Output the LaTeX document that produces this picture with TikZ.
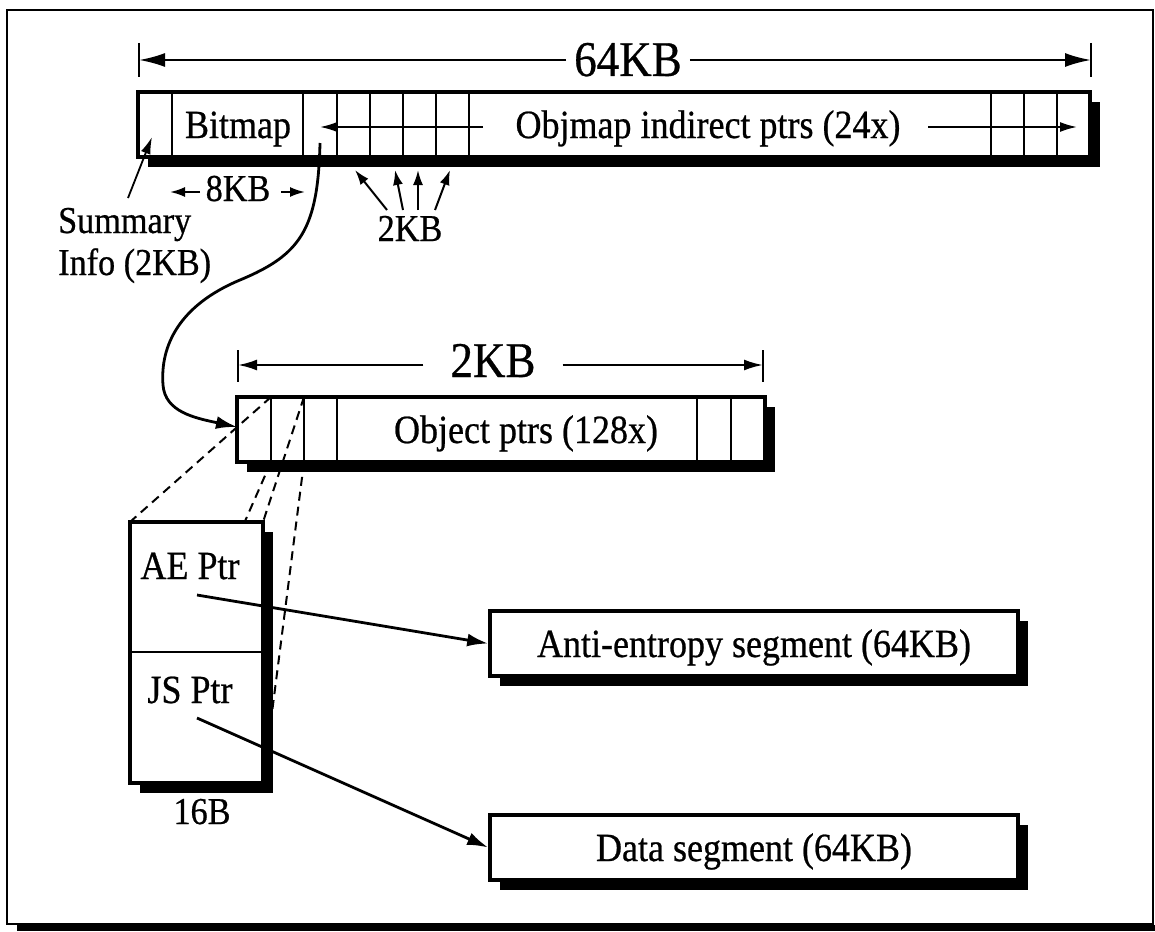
\documentclass[tikz,border=0pt]{standalone}
\usepackage{fontspec}
\setmainfont[FakeStretch=0.9,FakeBold=0.6]{Liberation Serif}
\usetikzlibrary{arrows.meta,shadows}
\begin{document}
\begin{tikzpicture}[x=1pt,y=-1pt,
  box/.style={draw, line width=3.6pt, fill=white, inner sep=0pt,
    drop shadow={shadow xshift=10pt, shadow yshift=-10pt, opacity=1, fill=black}},
  txt/.style={font=\fontsize{40}{46}\selectfont, inner sep=0pt},
  big/.style={font=\fontsize{50}{55}\selectfont, inner ysep=0pt},
  lbl/.style={font=\fontsize{38}{42}\selectfont, inner sep=0pt},
  divline/.style={line width=2pt},
  dimline/.style={line width=2.2pt},
  bigtip/.style={dimline, -{Latex[length=26pt,width=14pt]}},
  midtip/.style={dimline, -{Latex[length=19pt,width=11pt]}},
  inarrow/.style={line width=1.8pt, -{Latex[length=17pt,width=10pt]}},
  smallarrow/.style={line width=2pt, -{Latex[length=15pt,width=10pt]}},
  conn/.style={line width=2.8pt, -{Latex[length=21pt,width=13pt]}},
  dashline/.style={line width=2pt, dash pattern=on 9pt off 6pt}
]
\useasboundingbox (0,0) rectangle (1155,931);
% frame
\fill[white] (0,0) rectangle (1155,931);
\draw[line width=1.8pt] (7,10) rectangle (1153,924);
\fill[black] (17,925) rectangle (1155,931);

% ---------- top 64KB dimension ----------
\draw[dimline] (139,43) -- (139,77);
\draw[dimline] (1091,43) -- (1091,77);
\coordinate (d64L) at (139,60);
\coordinate (d64R) at (1091,60);
\node[big, anchor=base, inner xsep=8pt] (kb64) at (628,76) {64KB};
\draw[bigtip] (kb64.west |- d64L) -- (d64L);
\draw[bigtip] (kb64.east |- d64R) -- (d64R);

% ---------- top box ----------
\node[box, minimum width=952pt, minimum height=65pt] (top) at (614,124.5) {};
\foreach \x in {172,303,337,370,403,436,469,991,1024,1057}
  \draw[divline] (\x,92) -- (\x,157);
\node[txt, anchor=base, fill=white, inner xsep=2pt] (bitmap) at (238,138) {Bitmap};
\node[txt, anchor=base] (objmap) at (708,138) {Objmap indirect ptrs (24x)};
\coordinate (inLs) at (483,127);
\coordinate (inL) at (320,127);
\coordinate (inRs) at (928,127);
\coordinate (inR) at (1077,127);
\draw[inarrow] (inLs) -- (inL);
\draw[inarrow] (inRs) -- (inR);

% summary info
\node[lbl, anchor=base west, align=left] (summ) at (58,275) {Summary\\Info (2KB)};
\coordinate (sumS) at (128,198);
\coordinate (sumT) at (152,137);
\draw[inarrow] (sumS) -- (sumT);

% 8KB
\node[lbl, anchor=base] (kb8) at (238,201) {8KB};
\coordinate (k8Ls) at (200,192);
\coordinate (k8L) at (170,192);
\coordinate (k8Rs) at (281,192);
\coordinate (k8R) at (305,192);
\draw[smallarrow] (k8Ls) -- (k8L);
\draw[smallarrow] (k8Rs) -- (k8R);

% 2KB cells
\node[lbl, anchor=base] (kb2a) at (410,241) {2KB};
\coordinate (a1s) at (387,210); \coordinate (a1) at (355,170);
\coordinate (a2s) at (403,210); \coordinate (a2) at (395,170);
\coordinate (a3s) at (418,210); \coordinate (a3) at (418,170);
\coordinate (a4s) at (435,210); \coordinate (a4) at (450,170);
\foreach \i in {1,2,3,4} \draw[smallarrow] (a\i s) -- (a\i);

% ---------- middle 2KB dimension ----------
\draw[dimline] (238,350) -- (238,382);
\draw[dimline] (763,350) -- (763,382);
\coordinate (d2L) at (238,365);
\coordinate (d2R) at (763,365);
\node[big, anchor=base, inner xsep=27pt] (kb2) at (493,377) {2KB};
\draw[midtip] (kb2.west |- d2L) -- (d2L);
\draw[midtip] (kb2.east |- d2R) -- (d2R);

% ---------- object ptrs box ----------
\node[box, minimum width=528pt, minimum height=65pt] (obj) at (501,429.5) {};
\foreach \x in {271,304,337,697,731}
  \draw[divline] (\x,397) -- (\x,462);
\node[txt, anchor=base] (objtxt) at (526,443) {Object ptrs (128x)};

% curve from objmap pointer to object ptrs
\coordinate (cvS) at (320,143);
\coordinate (cvM1) at (240,280);
\coordinate (cvM2) at (163,385);
\coordinate (cvE) at (237,427);
\draw[conn] (cvS) .. controls (318,230) and (300,255) .. (cvM1)
  .. controls (180,305) and (160,345) .. (cvM2)
  .. controls (165,412) and (195,418) .. (cvE);

% dashed expansion lines
\coordinate (c1t) at (271,397);
\coordinate (c2t) at (304,397);
\coordinate (c1b) at (271,462);
\coordinate (c2b) at (304,462);
\coordinate (pNW) at (130,522);
\coordinate (pNE) at (263,522);
\coordinate (pSW) at (130,783);
\coordinate (pSE) at (263,783);
\draw[dashline] (c1t) -- (pNW);
\draw[dashline] (c2t) -- (pNE);
\draw[dashline] (c1b) -- (pSW);
\draw[dashline] (c2b) -- (pSE);

% ---------- 16B box ----------
\node[box, minimum width=133pt, minimum height=261pt] (ptr) at (196.5,652.5) {};
\draw[divline] (130,652) -- (263,652);
\node[txt, anchor=base] (aetxt) at (190,579) {AE Ptr};
\node[txt, anchor=base] (jstxt) at (190,703) {JS Ptr};
\node[lbl, anchor=base] (b16) at (202,824) {16B};

% ---------- segments ----------
\node[box, minimum width=528pt, minimum height=65pt] (anti) at (754,643.5) {};
\node[txt, anchor=base] (antitxt) at (754,657) {Anti-entropy segment (64KB)};
\node[box, minimum width=528pt, minimum height=65pt] (data) at (754,847.5) {};
\node[txt, anchor=base] (datatxt) at (754,861) {Data segment (64KB)};

\coordinate (aeS) at (197,595);
\coordinate (jsS) at (197,718);
\draw[conn] (aeS) -- (anti.west);
\draw[conn] (jsS) -- (data.west);
\end{tikzpicture}
\end{document}
